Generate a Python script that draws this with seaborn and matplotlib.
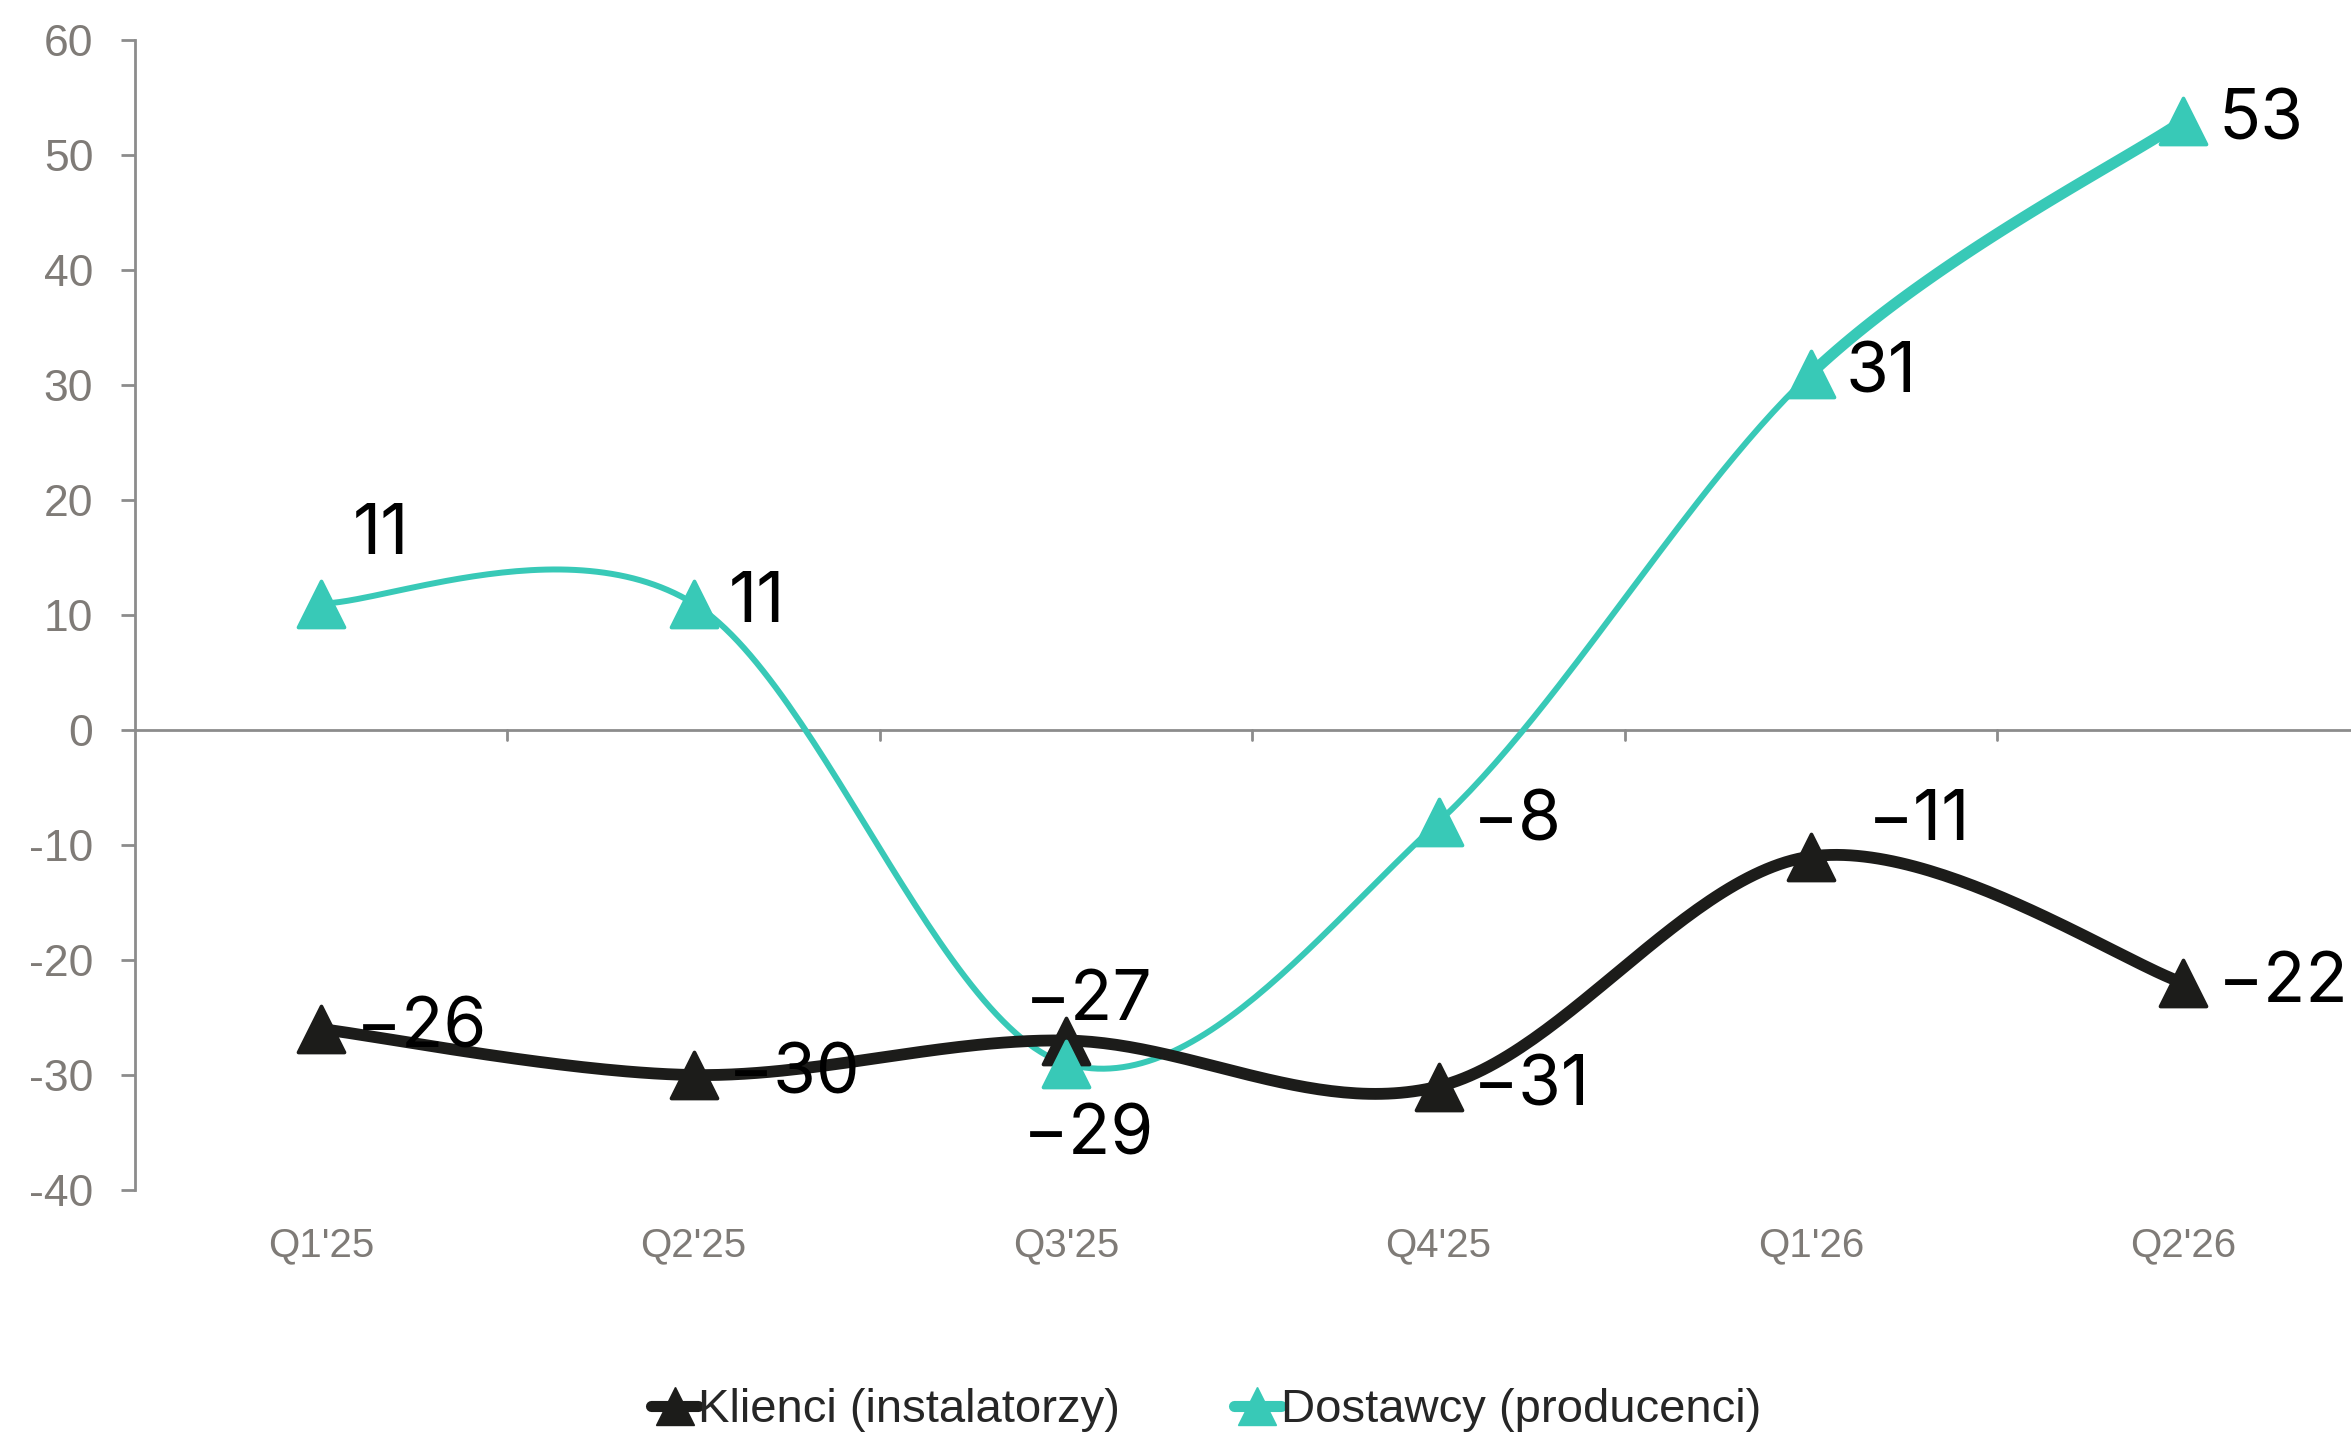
import numpy as np
import pandas as pd
import matplotlib
matplotlib.use("Agg")
import matplotlib.pyplot as plt
import seaborn as sns

# dane
kwartaly = ["Q1'25", "Q2'25", "Q3'25", "Q4'25", "Q1'26", "Q2'26"]
klienci = [-26, -30, -27, -31, -11, -22]
dostawcy = [11, 11, -29, -8, 31, 53]
nazwy = ["Klienci (instalatorzy)", "Dostawcy (producenci)"]
kolory = ["#1c1c1a", "#38c9b7"]
# przesuniecia etykiet (pt) wzgledem punktu
off_klienci = [(25, 0), (25, 0), (16, 28), (25, 0), (78, 25), (25, 0)]
off_dostawcy = [(43, 49), (25, 0), (16, -52), (25, 0), (25, 0), (25, 0)]

sns.set_style("white")
plt.rcParams["font.family"] = ["Liberation Sans", "DejaVu Sans"]

fig = plt.figure(figsize=(23.51, 14.36), dpi=100)
ax = fig.add_axes([0.0574, 0.1713, 0.9426, 0.8008])

SX, SY = 372.4, 11.5  # px na jednostke (do wygladzania jak w Excelu)


def wygladz(ys, n=60):
    # krzywa Beziera jak "smooth line" w Excelu, liczona w pikselach
    pts = np.column_stack([np.arange(len(ys)) * SX, np.array(ys, float) * SY])
    out = []
    for i in range(len(pts) - 1):
        p0 = pts[max(i - 1, 0)]
        p1, p2 = pts[i], pts[i + 1]
        p3 = pts[min(i + 2, len(pts) - 1)]
        c1 = p1 + (p2 - p0) / 6
        c2 = p2 - (p3 - p1) / 6
        t = np.linspace(0, 1, n)[:, None]
        seg = ((1 - t) ** 3) * p1 + 3 * ((1 - t) ** 2) * t * c1 + 3 * (1 - t) * t ** 2 * c2 + t ** 3 * p2
        out.append(pd.DataFrame({"x": seg[:, 0] / SX, "y": seg[:, 1] / SY, "seg": i}))
    return pd.concat(out, ignore_index=True)


ax.axhline(0, color="#8c8c8c", lw=2, zorder=1)

gl = wygladz(klienci)
sns.lineplot(data=gl, x="x", y="y", ax=ax, color=kolory[0], lw=8.5, sort=False, zorder=3)
gd = wygladz(dostawcy)
sns.lineplot(data=gd[gd.seg < 4], x="x", y="y", ax=ax, color=kolory[1], lw=4.3, sort=False, zorder=2)
sns.lineplot(data=gd[gd.seg == 4], x="x", y="y", ax=ax, color=kolory[1], lw=8, sort=False, zorder=2)

idx = np.arange(len(kwartaly))
sns.scatterplot(x=idx, y=klienci, ax=ax, marker="^", s=1100, color=kolory[0], edgecolor=kolory[0], zorder=4)
sns.scatterplot(x=idx, y=dostawcy, ax=ax, marker="^", s=1100, color=kolory[1], edgecolor=kolory[1], zorder=5)

for vals, offs in [(klienci, off_klienci), (dostawcy, off_dostawcy)]:
    for i, (v, off) in enumerate(zip(vals, offs)):
        ha = "left" if off[1] == 0 else "center"
        ax.annotate(str(v).replace("-", "\u2212"), (i, v), xytext=off, textcoords="offset points",
                    ha=ha, va="center", fontsize=50, color="black", family=["Inter", "DejaVu Sans"], zorder=6)

ax.set_xlim(-0.5, 5.45)
ax.set_ylim(-40, 60)
yt = list(range(-40, 61, 10))
ax.set_yticks(yt)
ax.set_yticklabels([str(v) for v in yt], fontsize=32, color="#7f7b77")
ax.tick_params(axis="y", direction="out", length=10, width=2, color="#8c8c8c", pad=20, left=True)

# osie
for s in ["top", "right", "bottom"]:
    ax.spines[s].set_visible(False)
ax.spines["left"].set_color("#8c8c8c")
ax.spines["left"].set_linewidth(2)
ax.set_xticks([])
ax.set_xlabel("")
ax.set_ylabel("")

sec = ax.secondary_xaxis("bottom")
sec.set_xticks(idx)
sec.set_xticklabels(kwartaly, fontsize=29, color="#7f7b77")
sec.tick_params(length=0, pad=26)
sec.spines["bottom"].set_visible(False)

# kreski podzialki na osi zero
for xv in idx[:-1] + 0.5:
    ax.plot([xv, xv], [0, -0.9], color="#8c8c8c", lw=2, zorder=1)

uchwyty = [plt.Line2D([], [], color=kolory[0], lw=8, marker="^", ms=28),
           plt.Line2D([], [], color=kolory[1], lw=8, marker="^", ms=28)]
fig.legend(uchwyty, nazwy, loc="center", bbox_to_anchor=(0.513, 0.018), ncol=2, frameon=False,
           handlelength=1.0, handletextpad=0.0, columnspacing=2.4,
           prop={"family": ["Liberation Sans", "DejaVu Sans"], "size": 34})

fig.savefig("out.png", dpi=100)
